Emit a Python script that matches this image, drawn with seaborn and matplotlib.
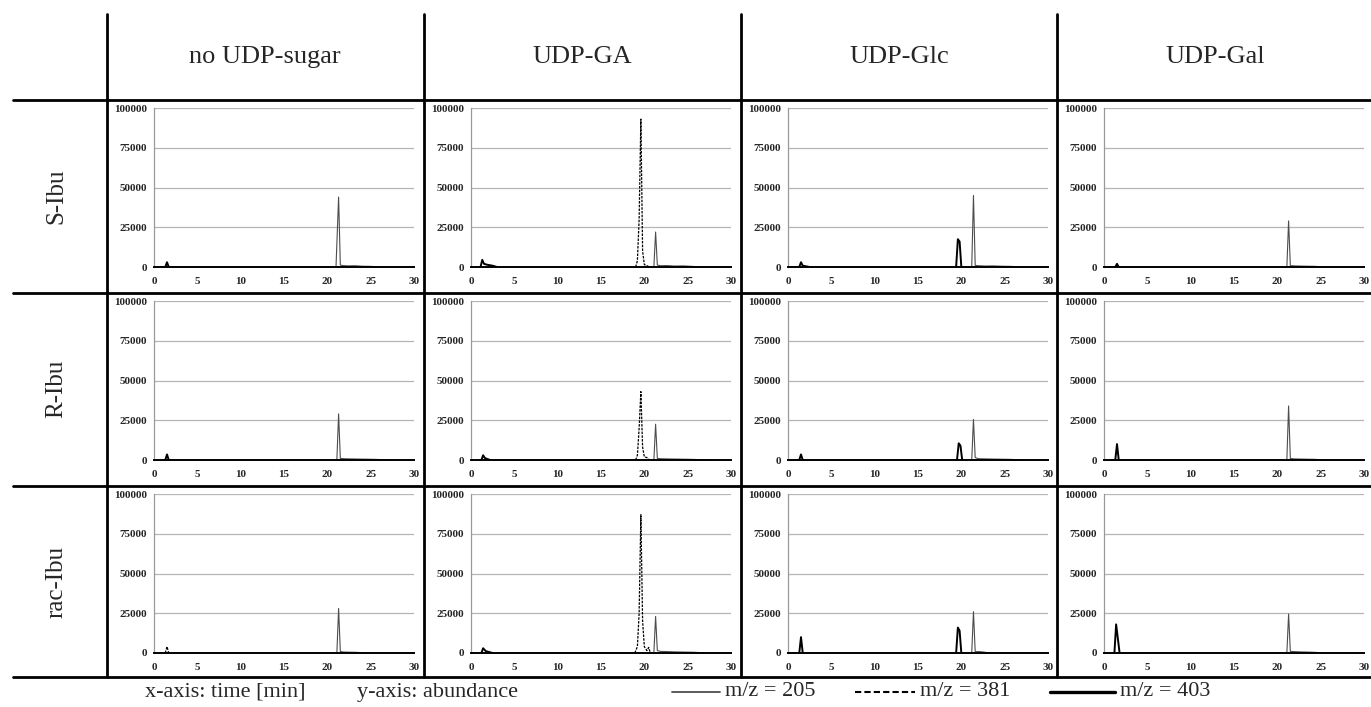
import pandas as pd
import matplotlib.pyplot as plt
import seaborn as sns
from matplotlib.lines import Line2D

sns.set_style("white")
plt.rcParams['font.family'] = ['Liberation Serif', 'DejaVu Serif']

# table headers
row_labels = ["S-Ibu", "R-Ibu", "rac-Ibu"]
col_labels = ["no UDP-sugar", "UDP-GA", "UDP-Glc", "UDP-Gal"]

# chromatogram peaks: (row, col) -> list of (time [min], abundance)
trace_205 = {
    (0, 0): [([21.0, 21.3, 21.5, 21.8, 22.4, 23.2, 24.0, 25.0, 26.0], [0, 44000, 1200, 900, 700, 800, 500, 400, 0])],
    (0, 1): [([21.1, 21.3, 21.5, 21.9, 22.6, 23.5, 24.5, 25.5, 26.5], [0, 22000, 1200, 800, 900, 600, 700, 400, 0])],
    (0, 2): [([21.2, 21.4, 21.6, 22.0, 22.8, 23.6, 24.6, 25.6, 27.0], [0, 45000, 1000, 800, 600, 700, 500, 400, 0])],
    (0, 3): [([21.1, 21.3, 21.5, 21.9, 22.6, 23.4, 24.4, 25.2], [0, 29000, 900, 700, 600, 500, 400, 0])],
    (1, 0): [([21.1, 21.3, 21.5, 21.9, 22.6, 23.5, 24.5, 25.5, 27.5], [0, 29000, 1000, 800, 700, 600, 500, 400, 0])],
    (1, 1): [([21.1, 21.3, 21.5, 21.9, 22.6, 23.5, 24.5, 25.5, 27.5], [0, 22500, 1000, 800, 700, 600, 500, 400, 0])],
    (1, 2): [([21.2, 21.4, 21.6, 22.0, 22.8, 23.6, 24.6, 25.6, 27.0], [0, 25500, 1500, 800, 700, 600, 500, 400, 0])],
    (1, 3): [([21.1, 21.3, 21.5, 21.9, 22.6, 23.4, 24.4, 25.2], [0, 34000, 1000, 700, 600, 500, 400, 0])],
    (2, 0): [([21.1, 21.3, 21.5, 21.9, 22.6, 23.4, 24.4], [0, 28000, 900, 600, 500, 400, 0])],
    (2, 1): [([21.1, 21.3, 21.5, 21.9, 22.6, 23.5, 24.5, 25.5, 27.5], [0, 23000, 1500, 1000, 900, 700, 600, 500, 0])],
    (2, 2): [([21.2, 21.4, 21.6, 22.0, 22.6, 23.2], [0, 26000, 800, 900, 600, 0])],
    (2, 3): [([21.1, 21.3, 21.5, 21.9, 22.6, 23.4, 24.4, 25.2], [0, 24500, 1000, 900, 700, 600, 400, 0])],
}

trace_381 = {
    (0, 1): [([19.0, 19.2, 19.4, 19.6, 19.8, 20.0, 20.3, 20.6], [0, 4000, 30000, 93000, 10000, 1500, 800, 0])],
    (1, 1): [([19.0, 19.2, 19.4, 19.6, 19.8, 20.0, 20.3, 20.6], [0, 3000, 20000, 43000, 8000, 2000, 1500, 0])],
    (2, 0): [([1.3, 1.5, 1.7], [0, 4000, 0])],
    (2, 1): [([18.9, 19.2, 19.4, 19.6, 19.8, 20.0, 20.3, 20.5, 20.7], [0, 4000, 25000, 87000, 20000, 4000, 1500, 3500, 0])],
}

trace_403 = {
    (0, 0): [([1.3, 1.5, 1.7], [0, 3000, 0])],
    (0, 1): [([1.1, 1.3, 1.5, 1.8, 2.5, 3.0], [0, 4500, 2000, 1500, 800, 0])],
    (0, 2): [([1.3, 1.5, 1.7, 2.5], [0, 3000, 800, 0]),
             ([19.4, 19.6, 19.8, 20.0], [0, 17500, 16000, 0])],
    (0, 3): [([1.3, 1.5, 1.7], [0, 2000, 0])],
    (1, 0): [([1.3, 1.5, 1.7], [0, 3500, 0])],
    (1, 1): [([1.2, 1.4, 1.6, 2.2], [0, 3000, 1200, 0])],
    (1, 2): [([1.3, 1.5, 1.7], [0, 3500, 0]),
             ([19.5, 19.7, 19.9, 20.1], [0, 10500, 9000, 0])],
    (1, 3): [([1.3, 1.5, 1.7], [0, 10000, 0])],
    (2, 1): [([1.2, 1.4, 1.7, 2.5], [0, 3000, 1200, 0])],
    (2, 2): [([1.3, 1.5, 1.7], [0, 10000, 0]),
             ([19.4, 19.6, 19.8, 20.0], [0, 16000, 14000, 0])],
    (2, 3): [([1.2, 1.4, 1.6, 1.8], [0, 18000, 9000, 0])],
}

x_ticks = [0, 5, 10, 15, 20, 25, 30]
y_ticks = [0, 25000, 50000, 75000, 100000]

# build one long table
records = []
for mz, traces in [("205", trace_205), ("381", trace_381), ("403", trace_403)]:
    for (r, c), segs in traces.items():
        for k, (ts, ys) in enumerate(segs):
            for t, y in zip(ts, ys):
                records.append(dict(row=r, col=c, mz=mz, seg=k, time=t, abundance=y))
df = pd.DataFrame(records)

styles = {
    "205": dict(color="#4d4d4d", lw=0.8, ls="-"),
    "381": dict(color="black", lw=0.9, ls=(0, (2, 1))),
    "403": dict(color="black", lw=1.4, ls="-"),
}

W, H = 1371, 707
fig = plt.figure(figsize=(W / 100, H / 100), dpi=100)


def fx(px):
    return px / W


def fy(py):
    return 1 - py / H


col_x0 = [107, 424, 741, 1057]
row_y0 = [100, 293, 486]

for r in range(3):
    for c in range(4):
        left = col_x0[c] + 47
        top = row_y0[r] + 8
        ax = fig.add_axes([fx(left), fy(top + 159), 260 / W, 159 / H])
        sub = df[(df.row == r) & (df.col == c)]
        for mz in ["205", "381", "403"]:
            part = sub[sub.mz == mz]
            if len(part) == 0:
                continue
            st = styles[mz]
            sns.lineplot(data=part, x="time", y="abundance", units="seg", estimator=None,
                         sort=False, color=st["color"], linewidth=st["lw"], linestyle=st["ls"],
                         ax=ax, legend=False)
        ax.set_xlim(0, 30)
        ax.set_ylim(0, 100000)
        ax.set_xticks(x_ticks)
        ax.set_yticks(y_ticks)
        ax.set_xticklabels([str(v) for v in x_ticks])
        ax.set_yticklabels([str(v) for v in y_ticks])
        ax.set_xlabel("")
        ax.set_ylabel("")
        ax.grid(axis="y", color="#b5b5b5", lw=0.9)
        ax.set_axisbelow(True)
        for s in ["top", "right"]:
            ax.spines[s].set_visible(False)
        ax.spines["left"].set_color("#999999")
        ax.spines["left"].set_linewidth(0.9)
        ax.spines["bottom"].set_color("black")
        ax.spines["bottom"].set_linewidth(1.4)
        ax.tick_params(length=0, labelsize=8, pad=5)
        ax.tick_params(axis="x", pad=7)
        for lab in ax.get_xticklabels() + ax.get_yticklabels():
            lab.set_fontweight("bold")

# table lines
lw_tab = 2.0
for x in col_x0:
    fig.add_artist(Line2D([fx(x), fx(x)], [fy(14), fy(677)], color="black", lw=lw_tab))
for y in [100, 293, 486, 677]:
    fig.add_artist(Line2D([fx(13), fx(1371)], [fy(y), fy(y)], color="black", lw=lw_tab))

# headers
for c, lab in enumerate(col_labels):
    fig.text(fx(col_x0[c] + 158), fy(57), lab, ha="center", va="center", fontsize=19)
for r, lab in enumerate(row_labels):
    fig.text(fx(56), fy(row_y0[r] + 96), lab, ha="center", va="center", fontsize=18, rotation=90)

# bottom legend
ly = 692
fig.text(fx(145), fy(ly), "x-axis: time [min]", ha="left", va="center", fontsize=16)
fig.text(fx(357), fy(ly), "y-axis: abundance", ha="left", va="center", fontsize=16)
legend_items = [("205", 672, 720), ("381", 855, 915), ("403", 1050, 1115)]
for mz, x0, x1 in legend_items:
    st = styles[mz]
    lw = {"205": 1.3, "381": 1.5, "403": 2.4}[mz]
    ls = "--" if mz == "381" else "-"
    fig.add_artist(Line2D([fx(x0), fx(x1)], [fy(ly), fy(ly)], color=st["color"], lw=lw, ls=ls,
                          dashes=(3, 1.5) if mz == "381" else (None, None)))
    fig.text(fx(x1 + 5), fy(ly), "m/z = " + mz, ha="left", va="center", fontsize=16)

fig.savefig("out.png", dpi=100)
